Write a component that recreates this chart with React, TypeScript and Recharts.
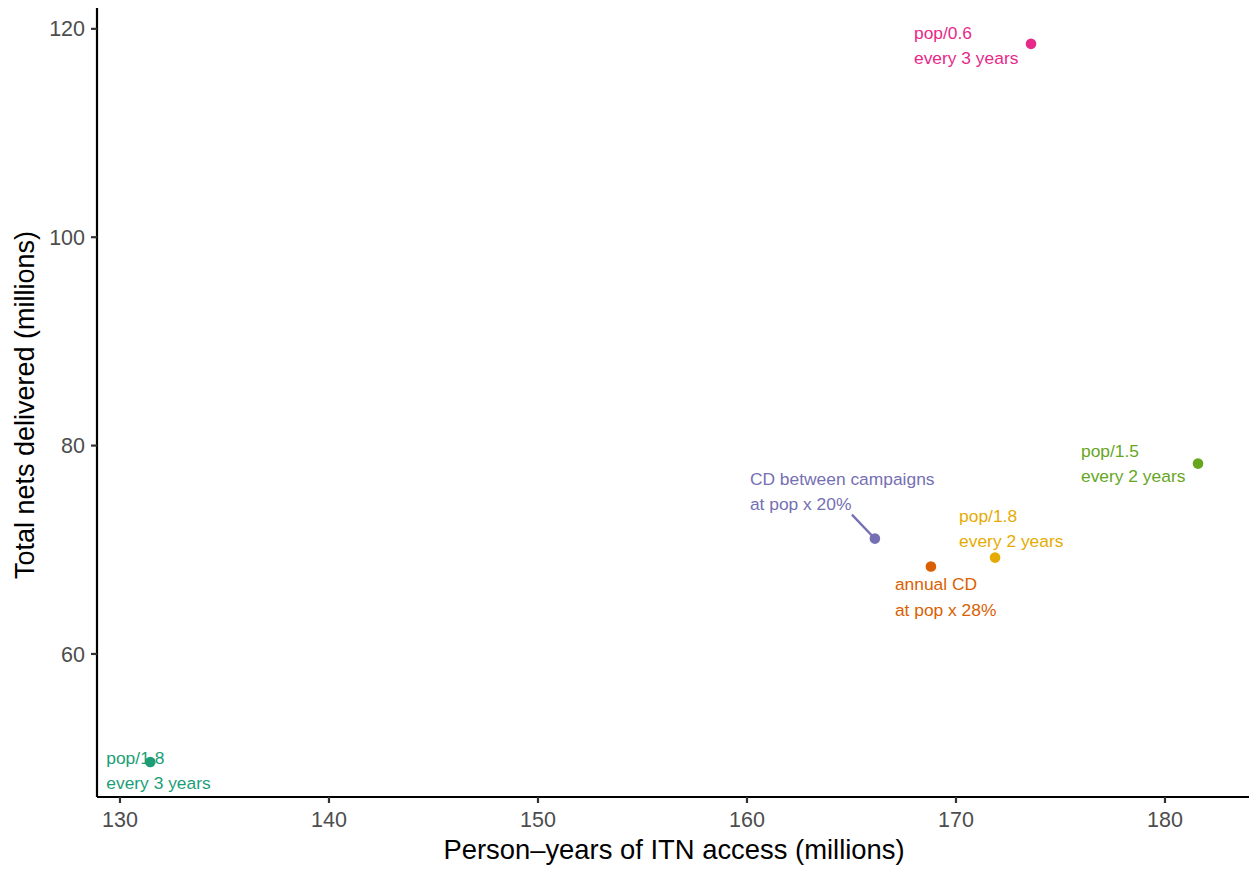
import React from 'react';
import { ScatterChart, Scatter, XAxis, YAxis, Label } from 'recharts';

// nets strategies
const strategies = ['pop/1.8 3y', 'annual CD', 'CD between', 'pop/0.6 3y', 'pop/1.5 2y', 'pop/1.8 2y'];
const personYears = [131.45, 168.8, 166.12, 173.59, 181.58, 171.87];
const totalNets = [49.63, 68.4, 71.07, 118.56, 78.27, 69.25];
const labelLines = [
  ['pop/1.8', 'every 3 years'],
  ['annual CD', 'at pop x 28%'],
  ['CD between campaigns', 'at pop x 20%'],
  ['pop/0.6', 'every 3 years'],
  ['pop/1.5', 'every 2 years'],
  ['pop/1.8', 'every 2 years'],
];
const xTicks = [130, 140, 150, 160, 170, 180];
const yTicks = [60, 80, 100, 120];

// Dark2
const colors = ['#1B9E77', '#D95F02', '#7570B3', '#E7298A', '#66A61E', '#E6AB02'];
// label offset from point: dx, dy of first line baseline, leader line
const labelPlace = [
  { dx: -44, dy: 2, leader: false },
  { dx: -36, dy: 24, leader: false },
  { dx: -125, dy: -54, leader: true },
  { dx: -117, dy: -5, leader: false },
  { dx: -117, dy: -7, leader: false },
  { dx: -36, dy: -36, leader: false },
];

const FONT = '"Liberation Sans", Arial, Helvetica, sans-serif';

const data = strategies.map((name, i) => ({
  name,
  x: personYears[i],
  y: totalNets[i],
  idx: i,
}));

function PointShape(props: any) {
  const { cx, cy, payload } = props;
  const i = payload.idx;
  const col = colors[i];
  const p = labelPlace[i];
  return (
    <g>
      {p.leader && (
        <line x1={cx - 23} y1={cy - 24} x2={cx - 2} y2={cy - 2} stroke={col} strokeWidth={2.2} />
      )}
      <circle cx={cx} cy={cy} r={5.3} fill={col} />
      {labelLines[i].map((t, j) => (
        <text
          key={j}
          x={cx + p.dx}
          y={cy + p.dy + j * 25.5}
          fill={col}
          fontSize={17.4}
          fontFamily={FONT}
        >
          {t}
        </text>
      ))}
    </g>
  );
}

export default function App() {
  return (
    <div style={{ position: 'absolute', left: 0, top: 0, background: '#fff' }}>
      <ScatterChart width={1249} height={870} margin={{ top: 8, right: 0, bottom: 0, left: 0 }}>
        <XAxis
          type="number"
          dataKey="x"
          domain={[128.9, 184.02]}
          ticks={xTicks}
          allowDataOverflow
          height={73}
          axisLine={{ stroke: '#000', strokeWidth: 2.2 }}
          tickLine={{ stroke: '#333', strokeWidth: 2.2 }}
          tickSize={6}
          tickMargin={9}
          tick={{ fill: '#4D4D4D', fontSize: 21.5, fontFamily: FONT }}
        >
          <Label
            content={() => (
              <text x={674} y={859} textAnchor="middle" fontSize={27.4} fontFamily={FONT} fill="#000">
                Person–years of ITN access (millions)
              </text>
            )}
          />
        </XAxis>
        <YAxis
          type="number"
          dataKey="y"
          domain={[46.27, 122.0]}
          ticks={yTicks}
          allowDataOverflow
          width={97}
          axisLine={{ stroke: '#000', strokeWidth: 2.2 }}
          tickLine={{ stroke: '#333', strokeWidth: 2.2 }}
          tickSize={6}
          tickMargin={6}
          tick={{ fill: '#4D4D4D', fontSize: 21.5, fontFamily: FONT }}
        >
          <Label
            content={() => (
              <text
                x={34}
                y={405}
                transform="rotate(-90, 34, 405)"
                textAnchor="middle"
                fontSize={27}
                fontFamily={FONT}
                fill="#000"
              >
                Total nets delivered (millions)
              </text>
            )}
          />
        </YAxis>
        <Scatter data={data} shape={PointShape} isAnimationActive={false} />
      </ScatterChart>
    </div>
  );
}
